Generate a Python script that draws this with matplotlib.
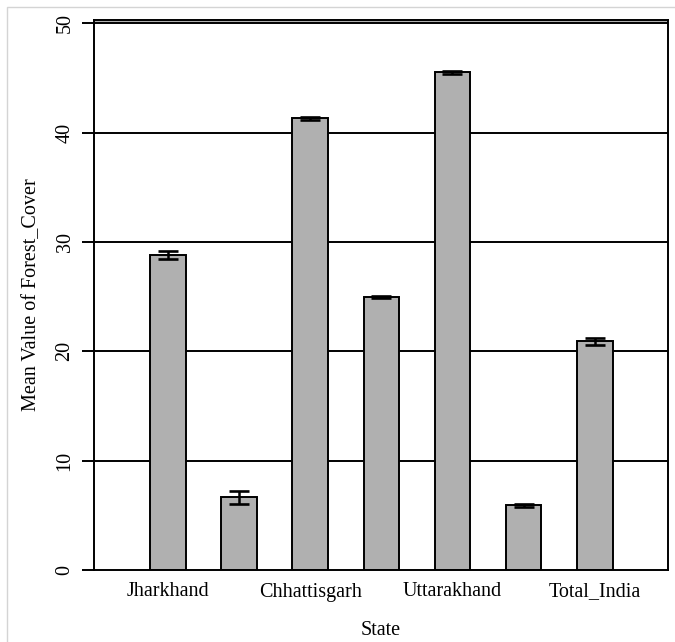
import matplotlib
matplotlib.use("Agg")
import matplotlib.pyplot as plt
from matplotlib.patches import Rectangle

states = ["Jharkhand", "Bihar", "Chhattisgarh", "Madhya_Pradesh",
          "Uttarakhand", "Uttar_Pradesh", "Total_India"]
means = [28.8, 6.65, 41.3, 24.95, 45.5, 5.9, 20.9]
errors = [0.4, 0.6, 0.12, 0.12, 0.18, 0.1, 0.35]
shown_labels = ["Jharkhand", "", "Chhattisgarh", "", "Uttarakhand", "", "Total_India"]
yticks = [0, 10, 20, 30, 40, 50]

plt.rcParams['font.family'] = ['Liberation Serif', 'DejaVu Serif']

fig = plt.figure(figsize=(6.75, 6.42), dpi=100)
ax = fig.add_axes([94/675, 1-570/642, (668-94)/675, (570-20)/642])

# light outer border of the original picture
fig.patches.append(Rectangle((7/675, -0.01), 1.05, (642-7)/642 + 0.01,
                             transform=fig.transFigure, fill=False,
                             edgecolor='#d4d4d4', linewidth=1.0))

x = list(range(len(states)))
for t in yticks[1:]:
    ax.axhline(t, color='black', linewidth=1.4, zorder=1)
ax.axhspan(50, 50.3, color='#b0b0b0', zorder=0.5, linewidth=0)

ax.bar(x, means, width=0.5, color='#b0b0b0', edgecolor='black',
       linewidth=1.4, zorder=2)
ax.errorbar(x, means, yerr=errors, fmt='none', ecolor='black',
            elinewidth=1.8, capsize=7, capthick=1.9, zorder=3)

ax.set_xlim(-1.04, 7.03)
ax.set_ylim(0, 50.3)

ax.set_xticks(x)
ax.set_xticklabels(shown_labels, fontsize=14.5)
ax.tick_params(axis='x', length=0, pad=9)
ax.set_yticks(yticks)
ax.set_yticklabels([str(t) for t in yticks], fontsize=14.5, rotation=90,
                   va='center')
ax.tick_params(axis='y', length=9, width=1.4, pad=5)

for s in ['left', 'right', 'top', 'bottom']:
    ax.spines[s].set_linewidth(1.4)

ax.set_ylabel("Mean Value of Forest_Cover", fontsize=14.5)
ax.yaxis.set_label_coords(-0.092, 0.5)
ax.set_xlabel("State", fontsize=14.5)
ax.xaxis.set_label_coords(0.5, -0.093)

fig.savefig("out.png", dpi=100)
